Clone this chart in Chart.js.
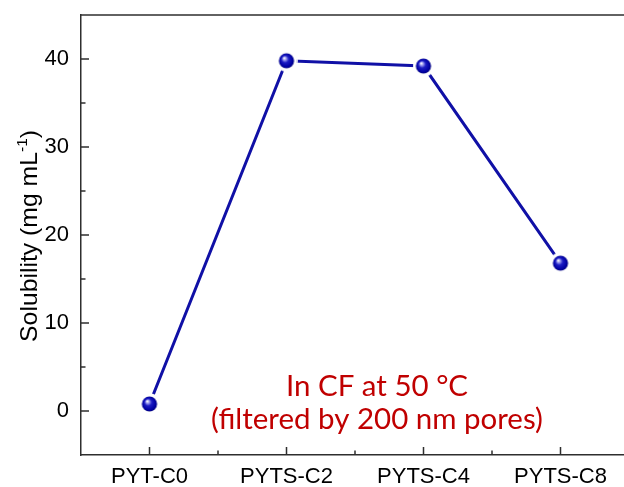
<!DOCTYPE html>
<html>
<head>
<meta charset="utf-8">
<script src="https://cdn.jsdelivr.net/npm/chart.js@4"></script>
<style>
  html, body { margin: 0; padding: 0; background: #ffffff; overflow: hidden; }
  #wrap { width: 640px; height: 487px; position: relative; }
</style>
</head>
<body>
<div id="wrap"><canvas id="c" width="640" height="487"></canvas></div>
<script>
// ---- data ----
const categories = ['PYT-C0', 'PYTS-C2', 'PYTS-C4', 'PYTS-C8'];
const solubility = [0.8, 39.8, 39.2, 16.8];
const yTicks = [0, 10, 20, 30, 40];
const yMinorTicks = [5, 15, 25, 35];
const yTitleMain = 'Solubility (mg mL';
const yTitleSup = '-1';
const yTitleEnd = ')';
const noteLines = ['In CF at 50 \u00B0C', '(filtered by 200 nm pores)'];

const AXIS = '#2e2e2e';
const LINE = '#1010a6';
const RED = '#c00000';
const TICKFONT = '"Liberation Sans", Arial, sans-serif';

// ball marker image
function makeBall() {
  const s = 22, c = s / 2, r = 7.6;
  const cv = document.createElement('canvas');
  cv.width = s; cv.height = s;
  const g = cv.getContext('2d');
  g.beginPath(); g.arc(c, c, r + 3.2, 0, Math.PI * 2); g.fillStyle = '#ffffff'; g.fill();
  const grad = g.createRadialGradient(c - 2.3, c - 2.8, 0.3, c, c, r + 0.5);
  grad.addColorStop(0, '#ffffff');
  grad.addColorStop(0.18, '#9a9aee');
  grad.addColorStop(0.42, '#1c1cc4');
  grad.addColorStop(0.8, '#0000a2');
  grad.addColorStop(1, '#00006e');
  g.beginPath(); g.arc(c, c, r, 0, Math.PI * 2); g.fillStyle = grad; g.fill();
  return cv;
}
const ball = makeBall();

const decor = {
  id: 'decor',
  afterDraw(chart) {
    const ctx = chart.ctx;
    const a = chart.chartArea;
    const xs = chart.scales.x, ys = chart.scales.y;
    ctx.save();
    ctx.strokeStyle = AXIS;
    ctx.lineWidth = 1.5;
    // top frame line
    ctx.beginPath(); ctx.moveTo(a.left - 0.75, a.top); ctx.lineTo(chart.width, a.top); ctx.stroke();
    // y ticks (inward)
    ctx.beginPath();
    yTicks.forEach(v => { const y = ys.getPixelForValue(v); ctx.moveTo(a.left, y); ctx.lineTo(a.left + 8, y); });
    yMinorTicks.forEach(v => { const y = ys.getPixelForValue(v); ctx.moveTo(a.left, y); ctx.lineTo(a.left + 4.5, y); });
    // x ticks (inward)
    categories.forEach((c, i) => { const x = xs.getPixelForValue(i); ctx.moveTo(x, a.bottom); ctx.lineTo(x, a.bottom - 8); });
    for (let i = 0; i < categories.length - 1; i++) {
      const x = xs.getPixelForValue(i + 0.5); ctx.moveTo(x, a.bottom); ctx.lineTo(x, a.bottom - 4.5);
    }
    ctx.stroke();

    // y title with superscript
    const targetLen = 212;
    let fs = 22;
    const measure = (f) => {
      ctx.font = f + 'px ' + TICKFONT; const w1 = ctx.measureText(yTitleMain).width + ctx.measureText(yTitleEnd).width;
      ctx.font = (f * 0.62) + 'px ' + TICKFONT; const w2 = ctx.measureText(yTitleSup).width;
      return w1 + w2;
    };
    fs = fs * targetLen / measure(fs);
    const total = measure(fs);
    const cy = (a.top + a.bottom) / 2 + 1;
    ctx.translate(37, cy);
    ctx.rotate(-Math.PI / 2);
    ctx.fillStyle = '#000000';
    ctx.textBaseline = 'alphabetic';
    ctx.textAlign = 'left';
    let x = -total / 2;
    ctx.font = fs + 'px ' + TICKFONT;
    ctx.fillText(yTitleMain, x, 0); x += ctx.measureText(yTitleMain).width;
    ctx.font = (fs * 0.62) + 'px ' + TICKFONT;
    ctx.fillText(yTitleSup, x, -fs * 0.42); x += ctx.measureText(yTitleSup).width;
    ctx.font = fs + 'px ' + TICKFONT;
    ctx.fillText(yTitleEnd, x, 0);
    ctx.restore();

    // red note
    ctx.save();
    ctx.fillStyle = RED;
    ctx.textAlign = 'center';
    ctx.textBaseline = 'alphabetic';
    let nf = 26;
    ctx.font = nf + 'px Lato, "Open Sans", sans-serif';
    nf = nf * 332 / ctx.measureText(noteLines[1]).width;
    ctx.font = nf + 'px Lato, "Open Sans", sans-serif';
    const cx = 377;
    ctx.fillText(noteLines[0], cx, 396);
    ctx.fillText(noteLines[1], cx, 429);
    ctx.restore();
  }
};

new Chart(document.getElementById('c'), {
  type: 'line',
  data: {
    labels: categories,
    datasets: [{
      data: solubility,
      borderColor: LINE,
      borderWidth: 3,
      pointStyle: ball,
      pointRadius: 8,
      pointHoverRadius: 8,
      tension: 0,
      fill: false
    }]
  },
  options: {
    responsive: false,
    devicePixelRatio: 1,
    animation: false,
    events: [],
    layout: { padding: { left: 0, right: 9, top: 15, bottom: 0 } },
    plugins: { legend: { display: false }, tooltip: { enabled: false }, title: { display: false } },
    scales: {
      x: {
        type: 'category',
        offset: true,
        grid: { display: false, drawTicks: false },
        border: { display: true, color: AXIS, width: 1.5 },
        ticks: { color: '#000000', font: { family: TICKFONT, size: 22 }, padding: 9, maxRotation: 0, autoSkip: false },
        afterFit(s) { s.height = 32; s.paddingLeft = 0; s.paddingRight = 0; }
      },
      y: {
        type: 'linear',
        min: -5, max: 45,
        grid: { display: false, drawTicks: false },
        border: { display: true, color: AXIS, width: 1.5 },
        ticks: { color: '#000000', font: { family: TICKFONT, size: 22 }, padding: 12 },
        afterBuildTicks(s) { s.ticks = yTicks.map(v => ({ value: v })); },
        afterFit(s) { s.width = 81; s.paddingTop = 0; s.paddingBottom = 0; }
      }
    }
  },
  plugins: [decor]
});
</script>
</body>
</html>
